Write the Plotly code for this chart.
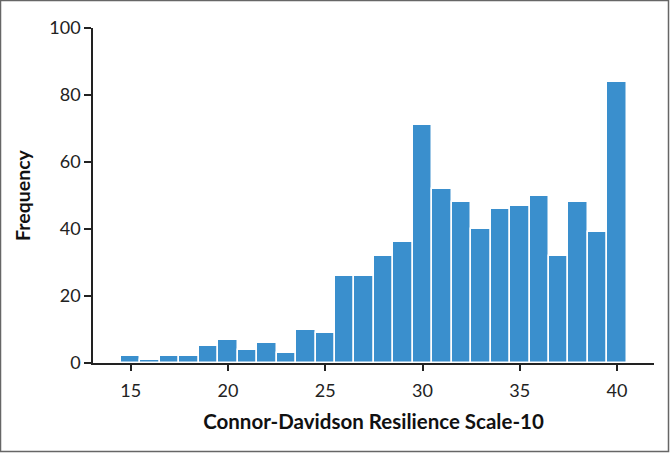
import plotly.graph_objects as go

scores = list(range(15, 41))
frequency = [2, 1, 2, 2, 5, 7, 4, 6, 3, 10, 9, 26, 26, 32, 36, 71, 52, 48, 40, 46, 47, 50, 32, 48, 39, 84]
x_ticks = [15, 20, 25, 30, 35, 40]
y_ticks = [0, 20, 40, 60, 80, 100]

W, H = 670, 453
ml, mr, mt, mb = 93, 16, 28, 90
pw, ph = W - ml - mr, H - mt - mb

fig = go.Figure(go.Bar(
    x=scores, y=frequency, width=1,
    marker=dict(color="#3a8fcd", line=dict(color="#ffffff", width=1.5)),
))

font_family = "Lato, Open Sans, sans-serif"

fig.update_layout(
    width=W, height=H,
    margin=dict(l=ml, r=mr, t=mt, b=mb),
    plot_bgcolor="white", paper_bgcolor="white",
    bargap=0, showlegend=False,
    font=dict(family=font_family, size=18, color="#222222"),
    xaxis=dict(
        range=[13.06, 41.9], tickvals=x_ticks, ticks="outside", ticklen=6,
        tickwidth=1.5, tickcolor="#222", showline=True, linecolor="#222",
        linewidth=1.5, showgrid=False, zeroline=False,
        tickfont=dict(size=18), ticklabelstandoff=5,
        title=dict(text="<b>Connor-Davidson Resilience Scale-10</b>",
                   font=dict(size=20.5, color="#111"), standoff=14),
    ),
    yaxis=dict(
        range=[0, 100], tickvals=y_ticks, ticks="outside", ticklen=7,
        tickwidth=1.5, tickcolor="#222", showline=True, linecolor="#222",
        linewidth=1.5, showgrid=False, zeroline=False,
        tickfont=dict(size=18),
        title=dict(text="<b>Frequency</b>", font=dict(size=19.5, color="#111"),
                   standoff=13),
    ),
    shapes=[dict(
        type="rect", xref="paper", yref="paper",
        x0=(0.5 - ml) / pw, x1=(W - 1.5 - ml) / pw,
        y0=-(mb - 1.5) / ph, y1=1 + (mt - 0.5) / ph,
        line=dict(color="#666666", width=1.5), fillcolor="rgba(0,0,0,0)",
        layer="above",
    )],
)

fig.write_html("out.html")
